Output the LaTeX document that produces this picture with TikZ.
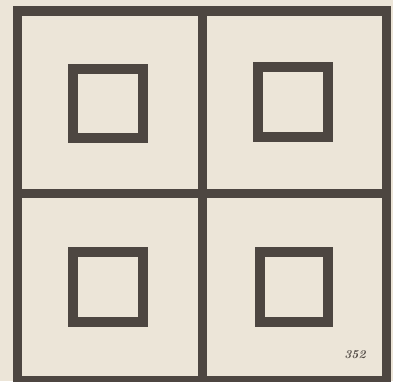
\documentclass[tikz,border=0pt]{standalone}
\begin{document}
\begin{tikzpicture}[x=1pt,y=-1pt,
  ink/.style={draw=inkc, line join=miter, line cap=rect},
  outer/.style={ink, line width=9.5pt},
  divider/.style={ink, line width=9pt, line cap=butt},
  inner/.style={ink, line width=10pt}]
\definecolor{paper}{HTML}{ECE5D8}
\definecolor{inkc}{HTML}{4D4641}
\fill[paper] (0,0) rectangle (393,381);
\useasboundingbox (0,0) rectangle (393,381);
% outer frame
\draw[outer] (17.5,11) rectangle (386.5,380.5);
% dividers
\draw[divider] (202.5,11) -- (202.5,380.5);
\draw[divider] (17.5,193.5) -- (386.5,193.5);
% inner squares
\draw[inner] (73,68.5) rectangle (143,138);
\draw[inner] (258,67) rectangle (328,137);
\draw[inner] (73,252) rectangle (143,322);
\draw[inner] (260,252) rectangle (328,322);
% plate number
\node[text=inkc, font=\bfseries\itshape\fontsize{12}{12}\selectfont, inner sep=0pt] (num) at (355,355) {352};
\end{tikzpicture}
\end{document}
